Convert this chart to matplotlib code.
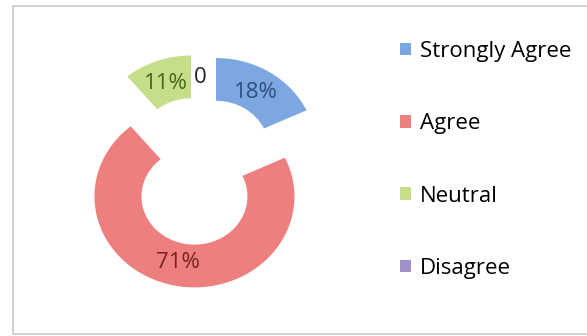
import matplotlib

matplotlib.use("Agg")
import matplotlib.pyplot as plt  # noqa: E402
from matplotlib.patches import Rectangle  # noqa: E402

categories = ["Strongly Agree", "Agree", "Neutral", "Disagree"]
values = [18, 71, 11, 0]

colors = ["#7DA7E1", "#EE7F7F", "#C4DE8A", "#A091C8"]
label_colors = ["#2F4F80", "#7A2222", "#4A651C", "#222222"]

plt.rcParams["font.family"] = ["Open Sans", "DejaVu Sans"]

W, H = 587, 336
fig = plt.figure(figsize=(W / 100, H / 100), dpi=100)

# outer chart border (right edge falls off the picture)
fig.patches.append(
    Rectangle((13 / W, 2 / H), 1.2, 328 / H, transform=fig.transFigure,
              fill=False, edgecolor="#CACACA", linewidth=1.2)
)

# doughnut axes, a bit squashed vertically like the source image
ax = fig.add_axes([50.7 / W, 19.4 / H, 300 / W, 291.2 / H])
wedges, texts, autotexts = ax.pie(
    values,
    colors=colors,
    explode=[0.286] * len(values),
    startangle=90,
    counterclock=False,
    radius=1,
    pctdistance=0.74,
    autopct=lambda p: f"{p:.0f}%" if p > 0.5 else "0",
    wedgeprops=dict(width=0.47, linewidth=0),
    textprops=dict(fontsize=16),
)
for t, c in zip(autotexts, label_colors):
    t.set_color(c)
ax.set_aspect("auto")
ax.set_xlim(-1.5, 1.5)
ax.set_ylim(-1.6, 1.6)

fig.legend(
    wedges,
    categories,
    loc="upper left",
    bbox_to_anchor=(380 / W, 1 - 21 / H),
    frameon=False,
    fontsize=16,
    handlelength=0.5,
    handleheight=0.5,
    handletextpad=0.4,
    labelspacing=2.31,
)

fig.savefig("out.png", dpi=100, facecolor="white")
